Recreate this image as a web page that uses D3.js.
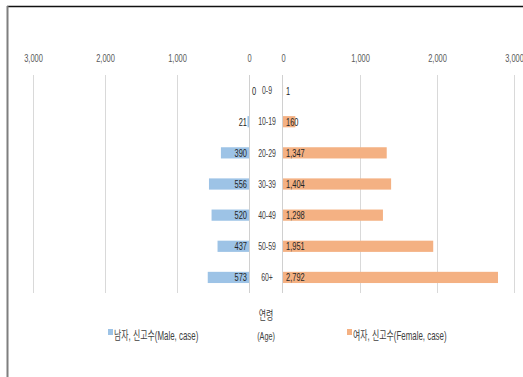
<!DOCTYPE html>
<html><head><meta charset="utf-8">
<script src="https://cdn.jsdelivr.net/npm/d3@7"></script>
<style>
body{margin:0;background:#fff;}
svg{display:block;}
text{font-family:"Liberation Sans","Noto Sans CJK KR",sans-serif;}
</style></head>
<body><svg id="c" width="523" height="377"></svg>
<script>
const ages = ["0-9","10-19","20-29","30-39","40-49","50-59","60+"];
const male = [0,21,390,556,520,437,573];
const female = [1,160,1347,1404,1298,1951,2792];
const ticks = [0,1000,2000,3000];
const maleLabel = "남자, 신고수(Male, case)";
const femaleLabel = "여자, 신고수(Female, case)";
const axisTitle1 = "연령";
const axisTitle2 = "(Age)";

const svg = d3.select("#c");
const fmt = d3.format(",");
const blue = "#9dc3e6", orange = "#f4b183";
const SX = 0.68;

// frame
svg.append("line").attr("x1",7).attr("x2",523).attr("y1",6.5).attr("y2",6.5).attr("stroke","#111").attr("stroke-width",1.5);
svg.append("line").attr("x1",7.5).attr("x2",7.5).attr("y1",6).attr("y2",377).attr("stroke","#7f7f7f").attr("stroke-width",2);

const xL = d3.scaleLinear().domain([0,3000]).range([249,33]);
const xR = d3.scaleLinear().domain([0,3000]).range([283,514]);
const y = d3.scaleBand().domain(ages).range([75,293]).paddingInner(0.64).paddingOuter(0.32);

// gridlines
const gTop = 75, gBot = 293;
[xL,xR].forEach(sc=>{
  svg.append("g").selectAll("line").data(ticks.filter(t=>t>0)).join("line")
    .attr("x1",d=>sc(d)+0.5).attr("x2",d=>sc(d)+0.5).attr("y1",gTop).attr("y2",gBot)
    .attr("stroke","#d9d9d9");
});

// tick labels via axes (condensed)
[xL,xR].forEach(sc=>{
  const ax = d3.axisTop(sc).tickValues(ticks).tickFormat(fmt).tickSize(0).tickPadding(0);
  const g = svg.append("g").attr("transform","translate(0,62)").call(ax);
  g.select(".domain").remove();
  g.selectAll("text").attr("font-size",11).attr("fill","#595959")
    .attr("font-family",'"Liberation Sans",sans-serif')
    .attr("transform",`scale(${SX},1)`);
});

// bars
svg.append("g").selectAll("rect").data(ages).join("rect")
  .attr("x",(d,i)=>xL(male[i])).attr("width",(d,i)=>xL(0)-xL(male[i]))
  .attr("y",d=>y(d)).attr("height",y.bandwidth()).attr("fill",blue);
svg.append("g").selectAll("rect").data(ages).join("rect")
  .attr("x",xR(0)).attr("width",(d,i)=>xR(female[i])-xR(0))
  .attr("y",d=>y(d)).attr("height",y.bandwidth()).attr("fill",orange);

// axis lines
svg.append("line").attr("x1",xL(0)+0.5).attr("x2",xL(0)+0.5).attr("y1",gTop).attr("y2",gBot).attr("stroke","#d0d0d0");
svg.append("line").attr("x1",xR(0)-0.5).attr("x2",xR(0)-0.5).attr("y1",gTop).attr("y2",gBot).attr("stroke","#d0d0d0");

function placed(sel, fx, fy, s){
  return sel.attr("x",0).attr("y",0)
    .attr("transform",(d,i)=>`translate(${fx(d,i)},${fy(d,i)}) scale(${s},1)`);
}

// value labels
placed(svg.append("g").selectAll("text").data(ages).join("text"),
  (d,i)=>male[i]===0 ? xL(0)+3 : xL(0)-2, d=>y(d)+y.bandwidth()/2, SX)
  .attr("text-anchor",(d,i)=>male[i]===0 ? "start" : "end")
  .attr("dy","0.36em").attr("font-size",11).attr("fill","#262626")
  .text((d,i)=>fmt(male[i]));
placed(svg.append("g").selectAll("text").data(ages).join("text"),
  ()=>xR(0)+3, d=>y(d)+y.bandwidth()/2, SX)
  .attr("text-anchor","start")
  .attr("dy","0.36em").attr("font-size",11).attr("fill","#262626")
  .text((d,i)=>fmt(female[i]));

// age labels
placed(svg.append("g").selectAll("text").data(ages).join("text"),
  ()=>(xL(0)+xR(0))/2+1, d=>y(d)+y.bandwidth()/2, 0.66)
  .attr("text-anchor","middle").attr("dy","0.36em")
  .attr("font-size",10.5).attr("fill","#404040")
  .text(d=>d);

// axis title
placed(svg.append("g").selectAll("text").data([[axisTitle1,320,12],[axisTitle2,340,11]]).join("text"),
  ()=>266, d=>d[1], 0.66)
  .attr("text-anchor","middle").attr("font-size",d=>d[2]).attr("fill","#404040").text(d=>d[0]);

// legend
const leg = [{x:108,c:blue,t:maleLabel},{x:347,c:orange,t:femaleLabel}];
const lg = svg.append("g").selectAll("g").data(leg).join("g");
lg.append("rect").attr("x",d=>d.x).attr("y",329).attr("width",5).attr("height",6).attr("fill",d=>d.c);
placed(lg.append("text"), d=>d.x+6, ()=>340, 0.66)
  .attr("font-size",12).attr("fill","#404040").text(d=>d.t);
</script></body></html>
